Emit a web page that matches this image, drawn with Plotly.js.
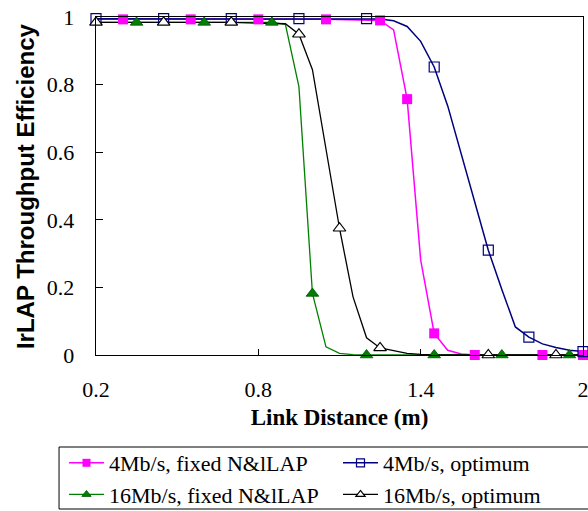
<!DOCTYPE html>
<html>
<head>
<meta charset="utf-8">
<script src="https://cdn.plot.ly/plotly-3.0.1.min.js"></script>
<style>html,body{margin:0;padding:0;background:#fff;}#chart{width:588px;height:511px;}</style>
</head>
<body>
<div id="chart"></div>
<script>
// ---- Data ----
const seriesNames = ["4Mb/s, fixed N&lLAP", "4Mb/s, optimum", "16Mb/s, fixed N&lLAP", "16Mb/s, optimum"];
const xTitle = "Link Distance (m)";
const yTitle = "IrLAP Throughput Efficiency";

// 4Mb/s, fixed N&lLAP
const fix4X = [0.2, 0.3, 0.55, 0.8, 1.05, 1.25, 1.3, 1.35, 1.4, 1.45, 1.5, 1.55, 1.6, 1.85, 2.0];
const fix4Y = [0.993, 0.993, 0.993, 0.993, 0.993, 0.99, 0.962, 0.757, 0.281, 0.064, 0.014, 0.003, 0, 0, 0];
const fix4MarkX = [0.3, 0.55, 0.8, 1.05, 1.25, 1.35, 1.45, 1.6, 1.85, 2.0];
const fix4MarkY = [0.993, 0.993, 0.993, 0.993, 0.99, 0.757, 0.064, 0, 0, 0];

// 4Mb/s, optimum
const opt4X = [0.2, 0.45, 0.7, 0.95, 1.2, 1.25, 1.3, 1.35, 1.4, 1.45, 1.5, 1.55, 1.6, 1.65, 1.7, 1.75, 1.8, 1.85, 1.9, 1.95, 2.0];
const opt4Y = [0.995, 0.995, 0.995, 0.995, 0.995, 0.994, 0.989, 0.972, 0.928, 0.852, 0.737, 0.595, 0.447, 0.31, 0.194, 0.083, 0.053, 0.033, 0.022, 0.014, 0.01];
const opt4MarkX = [0.2, 0.45, 0.7, 0.95, 1.2, 1.45, 1.65, 1.8, 2.0];
const opt4MarkY = [0.995, 0.995, 0.995, 0.995, 0.995, 0.852, 0.31, 0.053, 0.01];

// 16Mb/s, fixed N&lLAP
const fix16X = [0.2, 0.35, 0.6, 0.85, 0.9, 0.95, 1.0, 1.05, 1.1, 1.15, 1.2, 1.45, 1.7, 1.95, 2.0];
const fix16Y = [0.984, 0.984, 0.984, 0.984, 0.978, 0.794, 0.182, 0.024, 0.005, 0.001, 0, 0, 0, 0, 0];
const fix16MarkX = [0.35, 0.6, 0.85, 1.0, 1.2, 1.45, 1.7, 1.95];
const fix16MarkY = [0.984, 0.984, 0.984, 0.182, 0, 0, 0, 0];

// 16Mb/s, optimum
const opt16X = [0.2, 0.45, 0.7, 0.9, 0.95, 1.0, 1.05, 1.1, 1.15, 1.2, 1.25, 1.3, 1.35, 1.4, 1.45, 1.65, 1.9, 2.0];
const opt16Y = [0.984, 0.984, 0.984, 0.98, 0.949, 0.844, 0.613, 0.375, 0.172, 0.051, 0.021, 0.012, 0.005, 0.002, 0, 0, 0, 0];
const opt16MarkX = [0.2, 0.45, 0.7, 0.95, 1.1, 1.25, 1.65, 1.9];
const opt16MarkY = [0.984, 0.984, 0.984, 0.949, 0.375, 0.021, 0, 0];

const xTickVals = [0.2, 0.8, 1.4, 2.0];
const xTickText = ["0.2", "0.8", "1.4", "2"];
const yTickVals = [0, 0.2, 0.4, 0.6, 0.8, 1];
const yTickText = ["0", "0.2", "0.4", "0.6", "0.8", "1"];

// ---- Styles ----
const styles = [
  {line: {color: "#FF00FF", width: 1.5}, marker: {symbol: "square", color: "#FF00FF", size: 10, line: {color: "#FF00FF", width: 0}}, legend: "legend"},
  {line: {color: "#000080", width: 1.5}, marker: {symbol: "square-open", color: "#000080", size: 10, line: {color: "#000080", width: 1.2}}, legend: "legend2"},
  {line: {color: "#008000", width: 1.3}, marker: {symbol: "triangle-up", color: "#008000", size: 11, line: {color: "#005000", width: 0.8}}, legend: "legend"},
  {line: {color: "#000000", width: 1.3}, marker: {symbol: "triangle-up", color: "#FFFFFF", size: 11, line: {color: "#000000", width: 1.2}}, legend: "legend2"}
];
const lineData = [[fix4X, fix4Y], [opt4X, opt4Y], [fix16X, fix16Y], [opt16X, opt16Y]];
const markData = [[fix4MarkX, fix4MarkY], [opt4MarkX, opt4MarkY], [fix16MarkX, fix16MarkY], [opt16MarkX, opt16MarkY]];

const traces = [];
for (let i = 0; i < 4; i++) {
  const s = styles[i];
  traces.push({x: lineData[i][0], y: lineData[i][1], mode: "lines", line: s.line, showlegend: false, hoverinfo: "skip", cliponaxis: false});
}
for (let i = 0; i < 4; i++) {
  const s = styles[i];
  traces.push({x: markData[i][0], y: markData[i][1], mode: "markers", marker: s.marker, showlegend: false, cliponaxis: false});
}
for (let i = 0; i < 4; i++) {
  const s = styles[i];
  const lm = JSON.parse(JSON.stringify(s.marker));
  lm.size = 8;
  traces.push({x: [null], y: [null], name: seriesNames[i], mode: "lines+markers", line: s.line, marker: lm, legend: s.legend, showlegend: true});
}

const serif = "Liberation Serif, Times New Roman, serif";
const tickFont = {family: serif, size: 22, color: "#000"};
const legendFont = {family: serif, size: 22, color: "#000"};
const layout = {
  width: 588, height: 511,
  margin: {l: 96, r: 4.5, t: 17, b: 156, autoexpand: false},
  paper_bgcolor: "#fff", plot_bgcolor: "#fff",
  showlegend: true,
  xaxis: {
    range: [0.2, 2.0], tickvals: xTickVals, ticktext: xTickText,
    ticks: "inside", ticklen: 6, tickwidth: 1, tickcolor: "#000",
    showline: true, linecolor: "#000", linewidth: 1.3, mirror: true,
    showgrid: false, zeroline: false, tickfont: tickFont, ticklabelstandoff: 14, tickangle: 0,
    ticklabeloverflow: "allow",
    title: {text: xTitle, font: {family: serif, size: 23, color: "#000", weight: "bold"}, standoff: 8},
    automargin: false
  },
  yaxis: {
    range: [0, 1], tickvals: yTickVals, ticktext: yTickText,
    ticks: "inside", ticklen: 7, tickwidth: 1, tickcolor: "#000",
    showline: true, linecolor: "#000", linewidth: 1.3, mirror: true,
    showgrid: false, zeroline: false, tickfont: tickFont, ticklabelstandoff: 16,
    ticklabeloverflow: "allow",
    automargin: false
  },
  annotations: [{
    text: yTitle, xref: "paper", yref: "paper",
    x: (25 - 96) / 487.5, y: 0.5, xanchor: "center", yanchor: "middle",
    textangle: -90, showarrow: false,
    font: {family: "Liberation Sans, Arial, sans-serif", size: 24, color: "#000", weight: "bold"}
  }],
  legend: {
    x: 64 / 588, xref: "container", xanchor: "left",
    y: 1 - 442 / 511, yref: "container", yanchor: "top",
    bgcolor: "rgba(0,0,0,0)", borderwidth: 0, itemwidth: 35,
    font: legendFont, tracegroupgap: 0
  },
  legend2: {
    x: 338 / 588, xref: "container", xanchor: "left",
    y: 1 - 442 / 511, yref: "container", yanchor: "top",
    bgcolor: "rgba(0,0,0,0)", borderwidth: 0, itemwidth: 35,
    font: legendFont, tracegroupgap: 0
  },
  shapes: [{
    type: "rect", xref: "paper", yref: "paper",
    x0: (59 - 96) / 487.5, x1: 1.03, y0: (355 - 447) / 338, y1: (355 - 509) / 338,
    line: {color: "#000", width: 1}, fillcolor: "rgba(0,0,0,0)", layer: "below"
  }]
};

Plotly.newPlot("chart", traces, layout, {staticPlot: true, displayModeBar: false});
</script>
</body>
</html>
